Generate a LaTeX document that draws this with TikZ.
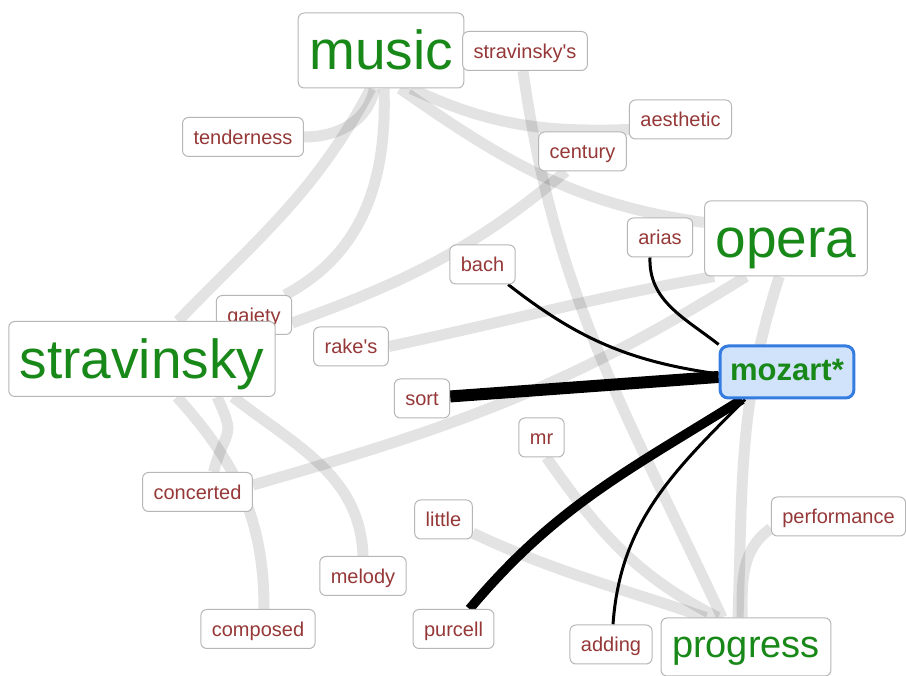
\documentclass[tikz,border=0pt]{standalone}
\usepackage{fontspec}
\setmainfont{Liberation Sans}
\usetikzlibrary{backgrounds}
\definecolor{termgreen}{RGB}{24,136,24}
\definecolor{termred}{RGB}{150,56,56}
\definecolor{boxgray}{RGB}{182,182,182}
\definecolor{focusfill}{RGB}{208,227,250}
\definecolor{focusline}{RGB}{52,124,224}
\begin{document}
\begin{tikzpicture}[x=10pt,y=10pt,
    term/.style={draw=boxgray,fill=white,line width=1pt,rounded corners=6pt,inner xsep=11pt,inner ysep=0pt,
      text height=27pt,text depth=12pt,text=termred,font=\fontsize{20}{20}\selectfont},
    bigterm/.style={term,text height=57pt,text depth=18pt,text=termgreen,font=\fontsize{55}{55}\selectfont},
    midterm/.style={term,text height=40pt,text depth=18pt,text=termgreen,font=\fontsize{38}{38}\selectfont},
    focus/.style={term,draw=focusline,fill=focusfill,line width=3pt,rounded corners=8pt,inner xsep=10pt,
      text height=35pt,text depth=17pt,text=termgreen,font=\bfseries\fontsize{31}{31}\selectfont},
    band/.style={line width=11pt,draw=black,draw opacity=0.11},
    tie/.style={line width=3pt}]
\useasboundingbox (0,0) rectangle (90.6,67.6);
    \node[bigterm] (music) at (38.1,62.55) {music};
    \node[term] (stravinskys) at (52.5,62.5) {stravinsky\textquotesingle s};
    \node[term] (tenderness) at (24.3,53.9) {tenderness};
    \node[term] (aesthetic) at (68.05,55.65) {aesthetic};
    \node[term] (century) at (58.25,52.45) {century};
    \node[term] (arias) at (66.0,43.85) {arias};
    \node[bigterm] (opera) at (78.6,43.75) {opera};
    \node[term] (bach) at (48.25,41.15) {bach};
    \node[term] (gaiety) at (25.4,36.1) {gaiety};
    \node[bigterm] (stravinsky) at (14.2,31.7) {stravinsky};
    \node[term] (rakes) at (35.1,32.95) {rake\textquotesingle s};
    \node[term] (sort) at (42.2,27.75) {sort};
    \node[focus] (mozart) at (78.7,30.4) {mozart*};
    \node[term] (mr) at (54.15,23.85) {mr};
    \node[term] (concerted) at (19.75,18.4) {concerted};
    \node[term] (little) at (44.35,15.65) {little};
    \node[term] (performance) at (83.85,15.95) {performance};
    \node[term] (melody) at (36.3,10.0) {melody};
    \node[term] (composed) at (25.8,4.7) {composed};
    \node[term] (purcell) at (45.35,4.7) {purcell};
    \node[term] (adding) at (61.1,3.15) {adding};
    \node[midterm] (progress) at (74.6,2.9) {progress};
\begin{pgfonlayer}{background}
    \fill[white] (0,0) rectangle (90.6,67.6);
    \draw[band] (music.-100) to[out=-100,in=0] (tenderness.east);
    \draw[band] (music.-105) to[out=-118,in=46] ([xshift=36pt]stravinsky.north);
    \draw[band] ([xshift=3pt]music.south) to[out=-88,in=28] ([xshift=31pt]gaiety.north);
    \draw[band] ([xshift=19pt]music.south) to[out=-35,in=172] ([yshift=16pt]opera.west);
    \draw[band] ([xshift=30pt]music.south) to[out=-25,in=182] ([yshift=-10pt]aesthetic.west);
    \draw[band] ([xshift=-2pt]stravinskys.south) to[out=-82,in=115] ([xshift=-24pt]progress.north);
    \draw[band] (century.-130) to[out=-140,in=20] ([yshift=-8pt]gaiety.east);
    \draw[band] (rakes.east) to[out=12,in=190] ([xshift=10pt]opera.south west);
    \draw[band] ([yshift=7pt]concerted.east) to[out=16,in=-148] ([xshift=-40pt]opera.south);
    \draw[band] ([xshift=75pt]stravinsky.south) to[out=-65,in=75,looseness=1.6] ([xshift=16pt]concerted.north);
    \draw[band] ([xshift=35pt]stravinsky.south) to[out=-48,in=90] ([xshift=6pt]composed.north);
    \draw[band] ([xshift=91pt]stravinsky.south) to[out=-38,in=92] (melody.north);
    \draw[band] ([xshift=5pt]mr.south) to[out=-55,in=153] ([xshift=-28pt]progress.north);
    \draw[band] (little.-25) to[out=-25,in=161] ([xshift=-40pt]progress.north);
    \draw[band] (opera.-100) to[out=-108,in=88] ([xshift=-8pt]progress.north);
    \draw[band] (performance.190) to[out=215,in=90] ([xshift=-4pt]progress.north);
    \draw[tie] (bach.-38) to[out=-38,in=172] ([yshift=-2pt]mozart.west);
    \draw[tie] ([xshift=-10pt]arias.south) to[out=-92,in=142] (mozart.north west);
    \draw[tie,line width=12pt] (sort) -- (mozart);
    \draw[tie,line width=9.5pt] ([xshift=16pt]purcell.north) to[out=50,in=-148] ([xshift=-45pt]mozart.south);
    \draw[tie] ([xshift=2pt]adding.north) to[out=86,in=-135] ([xshift=-42pt]mozart.south);
\end{pgfonlayer}
\end{tikzpicture}
\end{document}
